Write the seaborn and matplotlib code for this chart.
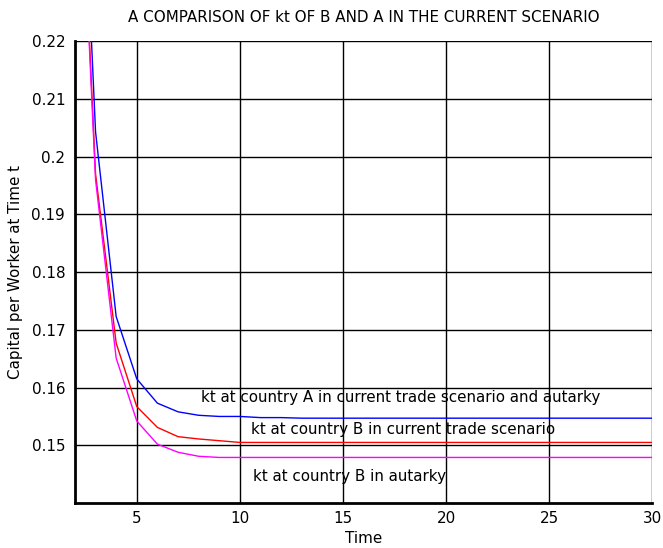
import matplotlib
matplotlib.use('Agg')
import matplotlib.pyplot as plt
import numpy as np
import pandas as pd
import seaborn as sns
from matplotlib import ticker

# -----------------------------------------------------------------------------
# data (capital per worker, t = 2 .. 30)
time = list(range(2, 31))
kt_a = [0.284, 0.2043, 0.1723, 0.1615, 0.1573, 0.1558, 0.1552, 0.1550, 0.1550,
        0.1548, 0.1548, 0.1547, 0.1547, 0.1547, 0.1547, 0.1547, 0.1547, 0.1547,
        0.1547, 0.1547, 0.1547, 0.1547, 0.1547, 0.1547, 0.1547, 0.1547, 0.1547,
        0.1547, 0.1547]
kt_b_trade = [0.275, 0.197, 0.1677, 0.1567, 0.1531, 0.1515, 0.1511, 0.1508,
              0.1505, 0.1505, 0.1505, 0.1505, 0.1505, 0.1505, 0.1505, 0.1505,
              0.1505, 0.1505, 0.1505, 0.1505, 0.1505, 0.1505, 0.1505, 0.1505,
              0.1505, 0.1505, 0.1505, 0.1505, 0.1505]
kt_b_autarky = [0.273, 0.196, 0.1651, 0.1542, 0.1502, 0.1488, 0.1481, 0.1479,
                0.1479, 0.1479, 0.1479, 0.1479, 0.1479, 0.1479, 0.1479, 0.1479,
                0.1479, 0.1479, 0.1479, 0.1479, 0.1479, 0.1479, 0.1479, 0.1479,
                0.1479, 0.1479, 0.1479, 0.1479, 0.1479]

series_names = ['A', 'B trade', 'B autarky']
series_colors = ['#0000ff', '#ff0000', '#ff00ff']
labels = ['kt at country A in current trade scenario and autarky',
          'kt at country B in current trade scenario',
          'kt at country B in autarky']

df = pd.DataFrame({
    'Time': time * 3,
    'kt': kt_a + kt_b_trade + kt_b_autarky,
    'series': np.repeat(series_names, len(time)),
})

sns.set_style('white')
plt.rcParams['font.family'] = ['DejaVu Sans']
plt.rcParams['text.color'] = 'black'
plt.rcParams['axes.labelcolor'] = 'black'
plt.rcParams['xtick.color'] = 'black'
plt.rcParams['ytick.color'] = 'black'
fs = 10.9

fig = plt.figure(figsize=(6.63, 5.48), dpi=100)
ax = fig.add_axes([0.113, 0.082, 0.871, 0.843])
sns.lineplot(data=df, x='Time', y='kt', hue='series', palette=series_colors,
             hue_order=series_names, ax=ax, legend=False, linewidth=1.0)

ax.set(xlim=(2, 30), ylim=(0.14, 0.22))
ax.xaxis.set_major_locator(ticker.FixedLocator([5, 10, 15, 20, 25, 30]))
ax.yaxis.set_major_locator(ticker.FixedLocator(
    [0.15, 0.16, 0.17, 0.18, 0.19, 0.2, 0.21, 0.22]))
ax.yaxis.set_major_formatter(ticker.FuncFormatter(lambda v, p: f'{v:g}'))
ax.grid(True, color='black', linewidth=1.0, linestyle='-')
ax.tick_params(axis='both', labelsize=fs, length=0)
ax.tick_params(axis='y', pad=7)
ax.tick_params(axis='x', pad=6)
for side in ['left', 'bottom']:
    ax.spines[side].set_linewidth(2.0)
    ax.spines[side].set_color('black')
for side in ['top', 'right']:
    ax.spines[side].set_visible(False)

ax.set_xlabel('Time', fontsize=fs, labelpad=3)
ax.set_ylabel('Capital per Worker at Time t', fontsize=fs, labelpad=6)
ax.set_title('A COMPARISON OF kt OF B AND A IN THE CURRENT SCENARIO',
             fontsize=fs, pad=14)

ax.text(8.12, 0.1582, labels[0], fontsize=fs, va='center', ha='left')
ax.text(10.53, 0.1528, labels[1], fontsize=fs, va='center', ha='left')
ax.text(10.65, 0.1446, labels[2], fontsize=fs, va='center', ha='left')

fig.savefig('out.png', dpi=100, facecolor='white')
